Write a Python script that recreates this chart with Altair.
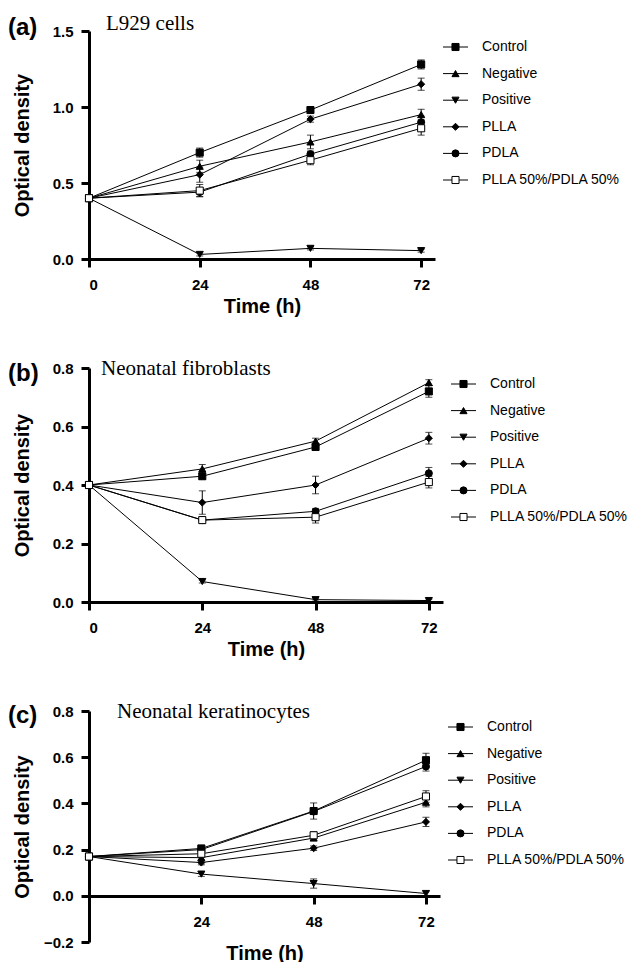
import altair as alt
import pandas as pd

times = [0, 24, 48, 72]
series = ["Control", "Negative", "Positive", "PLLA", "PDLA", "PLLA 50%/PDLA 50%"]
shapes = ["square", "triangle-up", "triangle-down", "diamond", "circle", "square"]
fills = ["black", "black", "black", "black", "black", "white"]

# Panel (a) L929 cells
a_control = [0.40, 0.70, 0.98, 1.28]
a_negative = [0.40, 0.61, 0.77, 0.95]
a_positive = [0.40, 0.03, 0.07, 0.055]
a_plla = [0.40, 0.555, 0.92, 1.15]
a_pdla = [0.40, 0.44, 0.69, 0.90]
a_blend = [0.40, 0.45, 0.65, 0.86]
a_err_control = [0, 0.03, 0.02, 0.03]
a_err_negative = [0, 0.04, 0.045, 0.035]
a_err_positive = [0, 0.01, 0.01, 0.01]
a_err_plla = [0, 0.05, 0.02, 0.04]
a_err_pdla = [0, 0.03, 0.02, 0.04]
a_err_blend = [0, 0.04, 0.03, 0.045]

# Panel (b) Neonatal fibroblasts
b_control = [0.40, 0.43, 0.53, 0.72]
b_negative = [0.40, 0.455, 0.55, 0.75]
b_positive = [0.40, 0.07, 0.008, 0.005]
b_plla = [0.40, 0.34, 0.40, 0.56]
b_pdla = [0.40, 0.28, 0.31, 0.44]
b_blend = [0.40, 0.28, 0.29, 0.41]
b_err_control = [0, 0.01, 0.01, 0.02]
b_err_negative = [0, 0.015, 0.01, 0.01]
b_err_positive = [0, 0.005, 0.005, 0.005]
b_err_plla = [0, 0.04, 0.03, 0.02]
b_err_pdla = [0, 0.01, 0.01, 0.02]
b_err_blend = [0, 0.01, 0.02, 0.02]

# Panel (c) Neonatal keratinocytes
c_control = [0.17, 0.205, 0.367, 0.587]
c_negative = [0.17, 0.165, 0.25, 0.405]
c_positive = [0.17, 0.094, 0.053, 0.01]
c_plla = [0.17, 0.144, 0.206, 0.32]
c_pdla = [0.17, 0.20, 0.365, 0.56]
c_blend = [0.17, 0.182, 0.262, 0.43]
c_err_control = [0, 0.01, 0.035, 0.03]
c_err_negative = [0, 0.01, 0.01, 0.02]
c_err_positive = [0, 0.01, 0.02, 0.01]
c_err_plla = [0, 0.01, 0.01, 0.02]
c_err_pdla = [0, 0.01, 0.01, 0.02]
c_err_blend = [0, 0.01, 0.015, 0.025]

FONT = "Liberation Sans"
SERIF = "Liberation Serif"


def make_df(vals, errs):
    rows = []
    for s, vv, ee in zip(series, vals, errs):
        for t, v, e in zip(times, vv, ee):
            rows.append({"series": s, "t": t, "v": v, "err": e,
                         "lo": v - e, "hi": v + e})
    return pd.DataFrame(rows)


shape_scale = alt.Scale(domain=series, range=shapes)
fill_scale = alt.Scale(domain=series, range=fills)


def panel(df, letter, name, name_dx, letter_y, ydomain, yticks, xticks,
          width, height, xoffset=0, xtitle_pad=4):
    x = alt.X("t:Q", scale=alt.Scale(domain=[0, 75], nice=False),
              axis=alt.Axis(values=xticks, title="Time (h)", format="d",
                            offset=xoffset, titlePadding=xtitle_pad))
    y = alt.Y("v:Q", scale=alt.Scale(domain=ydomain, nice=False),
              axis=alt.Axis(values=yticks, format=".1f", title="Optical density",
                            titleX=-57, titleY=height / 2))
    base = alt.Chart(df).encode(x=x, y=y)
    lines = base.mark_line(color="black", strokeWidth=1).encode(
        detail="series:N", order="t:Q")
    edf = base.transform_filter("datum.err > 0")
    rules = edf.mark_rule(color="black", strokeWidth=1).encode(
        y="lo:Q", y2="hi:Q")
    cap_lo = edf.mark_tick(orient="horizontal", color="black", size=7,
                           thickness=1).encode(y="lo:Q")
    cap_hi = edf.mark_tick(orient="horizontal", color="black", size=7,
                           thickness=1).encode(y="hi:Q")
    pts = base.mark_point(filled=True, opacity=1, stroke="black",
                          strokeWidth=1, size=50).encode(
        shape=alt.Shape("series:N", scale=shape_scale, legend=None),
        fill=alt.Fill("series:N", scale=fill_scale, legend=None))
    lab = alt.Chart(pd.DataFrame({"label": [letter]})).mark_text(
        align="left", baseline="alphabetic", font=FONT, fontSize=24,
        fontWeight="bold", color="black").encode(
        text="label:N", x=alt.value(-81), y=alt.value(letter_y))
    plot = alt.layer(lines, rules, cap_lo, cap_hi, pts, lab).properties(
        width=width, height=height,
        title=alt.TitleParams(name, font=SERIF, fontSize=21,
                              fontWeight="normal", anchor="start",
                              frame="group", dx=name_dx, dy=38, offset=3,
                              baseline="alphabetic", color="black"))

    ldf = pd.DataFrame({"series": series})
    ly = alt.Y("series:N", sort=series, axis=None,
               scale=alt.Scale(type="point", domain=series, range=[16, 149],
                               padding=0))
    lbase = alt.Chart(ldf).encode(y=ly)
    lrule = lbase.mark_rule(color="black", strokeWidth=1).encode(
        x=alt.value(0), x2=alt.value(25))
    lpts = lbase.mark_point(filled=True, opacity=1, stroke="black",
                            strokeWidth=1, size=50).encode(
        x=alt.value(12.5),
        shape=alt.Shape("series:N", scale=shape_scale, legend=None),
        fill=alt.Fill("series:N", scale=fill_scale, legend=None))
    ltxt = lbase.mark_text(align="left", baseline="middle", font=FONT,
                           fontSize=14, color="black").encode(
        x=alt.value(39), text="series:N")
    legend = alt.layer(lrule, lpts, ltxt).properties(width=150, height=height)
    return alt.hconcat(plot, legend, spacing=7)


pa = panel(make_df([a_control, a_negative, a_positive, a_plla, a_pdla, a_blend],
                   [a_err_control, a_err_negative, a_err_positive, a_err_plla,
                    a_err_pdla, a_err_blend]),
           "(a)", "L929 cells", 17, 4, [0, 1.5], [0, 0.5, 1.0, 1.5],
           [0, 24, 48, 72], 346, 228)
pb = panel(make_df([b_control, b_negative, b_positive, b_plla, b_pdla, b_blend],
                   [b_err_control, b_err_negative, b_err_positive, b_err_plla,
                    b_err_pdla, b_err_blend]),
           "(b)", "Neonatal fibroblasts", 12, 13, [0, 0.8],
           [0, 0.2, 0.4, 0.6, 0.8], [0, 24, 48, 72], 354, 234)
pc = panel(make_df([c_control, c_negative, c_positive, c_plla, c_pdla, c_blend],
                   [c_err_control, c_err_negative, c_err_positive, c_err_plla,
                    c_err_pdla, c_err_blend]),
           "(c)", "Neonatal keratinocytes", 28, 12, [-0.2, 0.8],
           [-0.2, 0, 0.2, 0.4, 0.6, 0.8], [24, 48, 72], 351, 231, xoffset=-46,
           xtitle_pad=14)

chart = alt.vconcat(pa, pb, pc, spacing=42).properties(
    padding={"left": 8, "top": 13, "right": 0, "bottom": 0}
).configure_view(stroke=None).configure_axis(
    grid=False, domainColor="black", domainWidth=3, tickColor="black",
    tickWidth=3, tickSize=8, labelFont=FONT, labelFontWeight="bold",
    labelFontSize=15, labelColor="black", labelPadding=8, titleFont=FONT,
    titleFontWeight="bold", titleFontSize=20, titleColor="black"
).configure_axisX(labelPadding=10)

chart.save("out.html", embed_options={"renderer": "svg", "actions": False})
